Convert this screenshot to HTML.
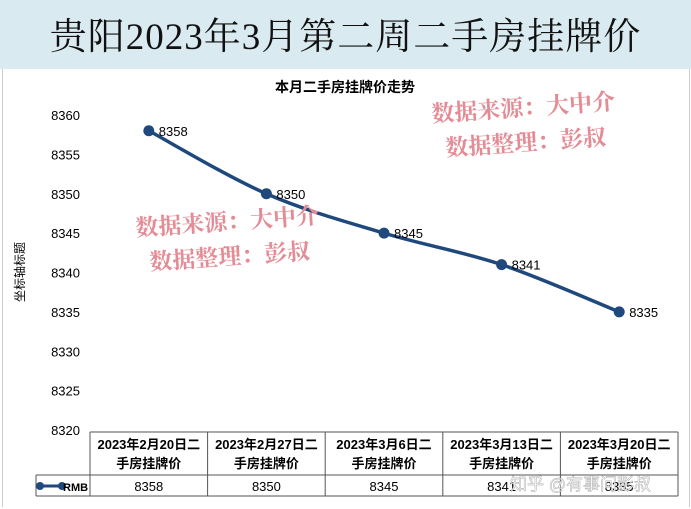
<!DOCTYPE html>
<html><head><meta charset="utf-8">
<style>
body{margin:0;width:691px;height:509px;background:#fff;overflow:hidden;font-family:"Liberation Sans","Noto Sans CJK SC",sans-serif;}
#title{position:absolute;left:0;top:0;width:691px;height:69px;background:#d9eaf1;text-align:center;font-family:"Liberation Serif","Noto Serif CJK SC",serif;font-size:37px;line-height:76px;color:#111;letter-spacing:1px;}
#panel{position:absolute;left:2px;top:69px;width:686px;height:438px;background:#fff;border-left:1px solid #ccc;border-right:1px solid #ccc;}
</style></head><body>
<div id="title">贵阳2023年3月第二周二手房挂牌价</div>
<div id="panel"></div>
<svg id="chart" width="691" height="509" style="position:absolute;left:0;top:0" font-family="Liberation Sans, Noto Sans CJK SC, sans-serif"></svg>
<script>
const categories=["2023年2月20日二|手房挂牌价","2023年2月27日二|手房挂牌价","2023年3月6日二|手房挂牌价","2023年3月13日二|手房挂牌价","2023年3月20日二|手房挂牌价"];
const values=[8358,8350,8345,8341,8335];
const yTicks=[8360,8355,8350,8345,8340,8335,8330,8325,8320];
const seriesName="RMB";
const svg=document.getElementById('chart');
const NS='http://www.w3.org/2000/svg';
function mk(t,a,txt){const e=document.createElementNS(NS,t);for(const k in a)e.setAttribute(k,a[k]);if(txt!==undefined)e.textContent=txt;svg.appendChild(e);return e;}
const yMin=8320,yMax=8360,yTop=115,yBot=430;
function y(v){return yBot-(v-yMin)/(yMax-yMin)*(yBot-yTop);}
const tLeft=90,colW=117.6;
function x(i){return tLeft+colW*(i+0.5);}
let e;
e=mk('text',{x:345,y:92,'text-anchor':'middle','font-size':14,'font-weight':'bold',fill:'#000'},'本月二手房挂牌价走势');


yTicks.forEach(v=>{
 const t=mk('text',{x:80,y:y(v)+5,'text-anchor':'end','font-size':13,fill:'#000'},v);
 
 
});
e=mk('text',{x:24,y:272,'text-anchor':'middle','font-size':12,fill:'#000',transform:'rotate(-90 24 272)'},'坐标轴标题');


// smooth line (catmull-rom)
const P=values.map((v,i)=>[x(i),y(v)]);
let d='M'+P[0][0]+','+P[0][1];
for(let i=0;i<P.length-1;i++){
 const p0=P[Math.max(0,i-1)],p1=P[i],p2=P[i+1],p3=P[Math.min(P.length-1,i+2)];
 const c1=[p1[0]+(p2[0]-p0[0])/6,p1[1]+(p2[1]-p0[1])/6];
 const c2=[p2[0]-(p3[0]-p1[0])/6,p2[1]-(p3[1]-p1[1])/6];
 d+=' C'+c1[0]+','+c1[1]+' '+c2[0]+','+c2[1]+' '+p2[0]+','+p2[1];
}
e=mk('path',{d:d,fill:'none',stroke:'#1f497d','stroke-width':3.5,'stroke-linejoin':'round'});


values.forEach((v,i)=>{
 const c=mk('circle',{cx:x(i),cy:y(v),r:5.5,fill:'#1f497d'});
 
 
 const l=mk('text',{x:x(i)+10,y:y(v)+5,'font-size':13,fill:'#000'},v);
 
 
});
// table
const hTop=432,hBot=475,dBot=496,tRight=tLeft+colW*categories.length;
mk('line',{x1:tLeft,y1:hTop,x2:tRight,y2:hTop,stroke:'#555','stroke-width':1});
mk('line',{x1:36,y1:hBot,x2:tRight,y2:hBot,stroke:'#555','stroke-width':1});
mk('line',{x1:36,y1:dBot,x2:tRight,y2:dBot,stroke:'#555','stroke-width':1});
mk('line',{x1:36,y1:hBot,x2:36,y2:dBot,stroke:'#555','stroke-width':1});
for(let i=0;i<=categories.length;i++){mk('line',{x1:tLeft+colW*i,y1:hTop,x2:tLeft+colW*i,y2:dBot,stroke:'#555','stroke-width':1});}
categories.forEach((c,i)=>{
 const p=c.split('|');
 const a=mk('text',{x:x(i),y:hTop+17,'text-anchor':'middle','font-size':13,'font-weight':'bold',fill:'#000'},p[0]);
 
 
 mk('text',{x:x(i),y:hTop+36,'text-anchor':'middle','font-size':13,'font-weight':'bold',fill:'#000'},p[1]);
 const dd=mk('text',{x:x(i),y:dBot-5,'text-anchor':'middle','font-size':13,fill:'#000'},values[i]);
 
 
});
e=mk('line',{x1:40,y1:486,x2:62,y2:486,stroke:'#1f497d','stroke-width':3});


mk('circle',{cx:40,cy:486,r:4,fill:'#1f497d'});mk('circle',{cx:62,cy:486,r:4,fill:'#1f497d'});
e=mk('text',{x:63,y:491,'font-size':11,'font-weight':'bold',fill:'#000'},seriesName);


// watermarks
function wm(x0,y0,name){
 const g=mk('text',{x:x0,y:y0,'font-size':23,fill:'#e38c95','font-weight':'bold','font-family':'Liberation Serif, Noto Serif CJK SC, serif',transform:'rotate(-4 '+x0+' '+y0+')'},'数据来源：大中介');
 
 
 const h=mk('text',{x:x0+14,y:y0+34,'font-size':23,fill:'#e38c95','font-weight':'bold','font-family':'Liberation Serif, Noto Serif CJK SC, serif',transform:'rotate(-4 '+(x0+14)+' '+(y0+34)+')'},'数据整理：彭叔');
 
 
}
wm(432,122,'watermark-top');
wm(136,236,'watermark-middle');
e=mk('text',{x:510,y:490,'font-size':17,fill:'#ffffff','fill-opacity':0.85,stroke:'#999','stroke-width':0.4},'知乎 @有事问彭叔');


</script>
</body></html>
